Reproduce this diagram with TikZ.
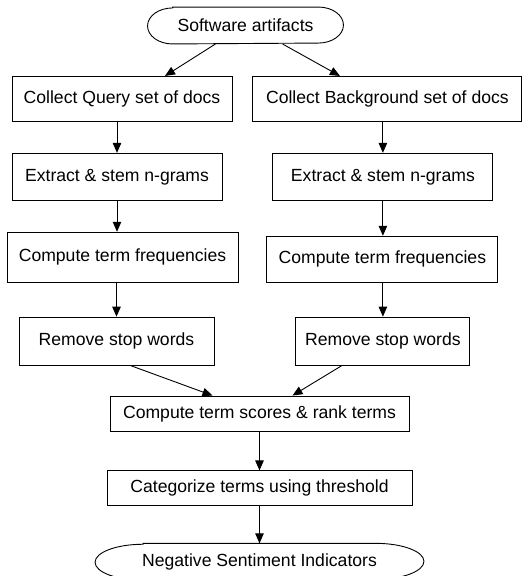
\documentclass[tikz,border=0pt]{standalone}
\usepackage{fontspec}
\setmainfont{Liberation Sans}
\usetikzlibrary{arrows.meta, positioning}
\tikzset{
    stepbox/.style={
        draw=black,
        line width=0.9pt,
        align=center,
        inner sep=2pt,
        font=\fontsize{17.6}{21}\selectfont
    },
    terminal/.style={stepbox, draw=none, minimum height=36pt},
    outline/.style={line width=0.9pt, draw=black},
    flow/.style={-{Triangle[length=10pt, width=8.5pt]}, line width=0.9pt, draw=black}
}

\begin{document}
\begin{tikzpicture}[x=1pt, y=-1pt, node distance=31pt and 20pt]
    \useasboundingbox (0,0) rectangle (526,576);

    \node[terminal, minimum width=195pt] (artifacts) at (245.5,25.5) {Software artifacts};

    \node[stepbox, minimum width=220pt, minimum height=45pt, below=32pt of artifacts, xshift=-123.5pt] (querydocs) {Collect Query set of docs};
    \node[stepbox, minimum width=269pt, minimum height=45pt, right=of querydocs] (backdocs) {Collect Background set of docs};

    \node[stepbox, minimum width=210pt, minimum height=47pt, below=of querydocs, xshift=-5pt] (queryngrams) {Extract \& stem n-grams};
    \node[stepbox, minimum width=220pt, minimum height=47pt, below=of backdocs, xshift=-4.5pt] (backngrams) {Extract \& stem n-grams};

    \node[stepbox, minimum width=231pt, minimum height=50pt, below=of queryngrams, xshift=5.5pt] (queryfreq) {Compute term frequencies};
    \node[stepbox, minimum width=231pt, minimum height=46pt, below=35pt of backngrams, xshift=-0.5pt] (backfreq) {Compute term frequencies};

    \node[stepbox, minimum width=195pt, minimum height=48pt, below=34pt of queryfreq, xshift=-6pt] (querystop) {Remove stop words};
    \node[stepbox, minimum width=174pt, minimum height=48pt, below=34pt of backfreq, xshift=0.5pt] (backstop) {Remove stop words};

    \node[stepbox, minimum width=299pt, minimum height=35pt, below=30pt of querystop, xshift=143pt] (scores) {Compute term scores \& rank terms};
    \node[stepbox, minimum width=305pt, minimum height=35pt, below=39pt of scores] (categorize) {Categorize terms using threshold};
    \node[terminal, minimum width=328pt, below=37pt of categorize] (indicators) {Negative Sentiment Indicators};

    % oval outlines of start and end
    \draw[outline] ([xshift=25pt]artifacts.north west) -- ([xshift=-25pt]artifacts.north east)
        arc[start angle=90, end angle=-90, x radius=25pt, y radius=18pt]
        -- ([xshift=25pt]artifacts.south west)
        arc[start angle=270, end angle=90, x radius=25pt, y radius=18pt] -- cycle;
    \draw[outline] ([xshift=48pt]indicators.north west) -- ([xshift=-48pt]indicators.north east)
        arc[start angle=90, end angle=-90, x radius=48pt, y radius=18pt]
        -- ([xshift=48pt]indicators.south west)
        arc[start angle=270, end angle=90, x radius=48pt, y radius=18pt] -- cycle;

    \draw[flow] ([xshift=-30pt]artifacts.south) -- ([xshift=43pt]querydocs.north);
    \draw[flow] ([xshift=37pt]artifacts.south) -- ([xshift=-47.5pt]backdocs.north);

    \draw[flow] (queryngrams.north |- querydocs.south) -- (queryngrams.north);
    \draw[flow] (backngrams.north |- backdocs.south) -- (backngrams.north);
    \draw[flow] (queryngrams.south) -- (queryngrams.south |- queryfreq.north);
    \draw[flow] (backngrams.south) -- (backngrams.south |- backfreq.north);
    \draw[flow] (querystop.north |- queryfreq.south) -- (querystop.north);
    \draw[flow] (backstop.north |- backfreq.south) -- (backstop.north);

    \draw[flow] ([xshift=14pt]querystop.south) -- ([xshift=-47pt]scores.north);
    \draw[flow] ([xshift=-41pt]backstop.south) -- ([xshift=33pt]scores.north);
    \draw[flow] (scores) -- (categorize);
    \draw[flow] (categorize) -- (indicators);
\end{tikzpicture}
\end{document}
